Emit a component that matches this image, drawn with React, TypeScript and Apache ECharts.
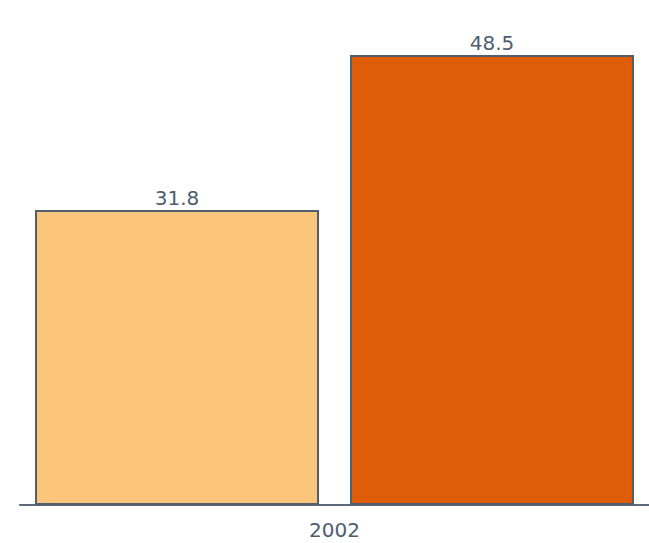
import React, { useEffect, useRef } from "react";
import * as echarts from "echarts";

const categories = ["2002"];
const seriesA = [31.8];
const seriesB = [48.5];

export default function App() {
  const ref = useRef<HTMLDivElement>(null);
  useEffect(() => {
    document.body.style.margin = "0";
    const chart = echarts.init(ref.current!, null, { renderer: "svg" });
    const labelStyle = {
      show: true,
      position: "top" as const,
      color: "#4b5e70",
      fontFamily: "DejaVu Sans",
      fontSize: 20,
      distance: 2,
    };
    const border = { borderColor: "#4f5f6f", borderWidth: 2 };
    chart.setOption({
      animation: false,
      grid: { left: 20, right: 0, top: 55, bottom: 38 },
      xAxis: {
        type: "category",
        data: categories,
        axisLine: { lineStyle: { color: "#5a6a7a", width: 2 } },
        axisTick: { show: false },
        axisLabel: { color: "#4b5e70", fontFamily: "DejaVu Sans", fontSize: 20, margin: 15 },
      },
      yAxis: {
        type: "value",
        min: 0,
        max: 48.5,
        show: false,
        splitLine: { show: false },
      },
      series: [
        {
          type: "bar",
          data: seriesA,
          barWidth: 284,
          barGap: "10.9%",
          itemStyle: { color: "#fbc67b", ...border },
          label: labelStyle,
        },
        {
          type: "bar",
          data: seriesB,
          barWidth: 284,
          itemStyle: { color: "#de5d09", ...border },
          label: labelStyle,
        },
      ],
    });
    return () => chart.dispose();
  }, []);
  return <div ref={ref} style={{ width: 649, height: 543 }} />;
}
